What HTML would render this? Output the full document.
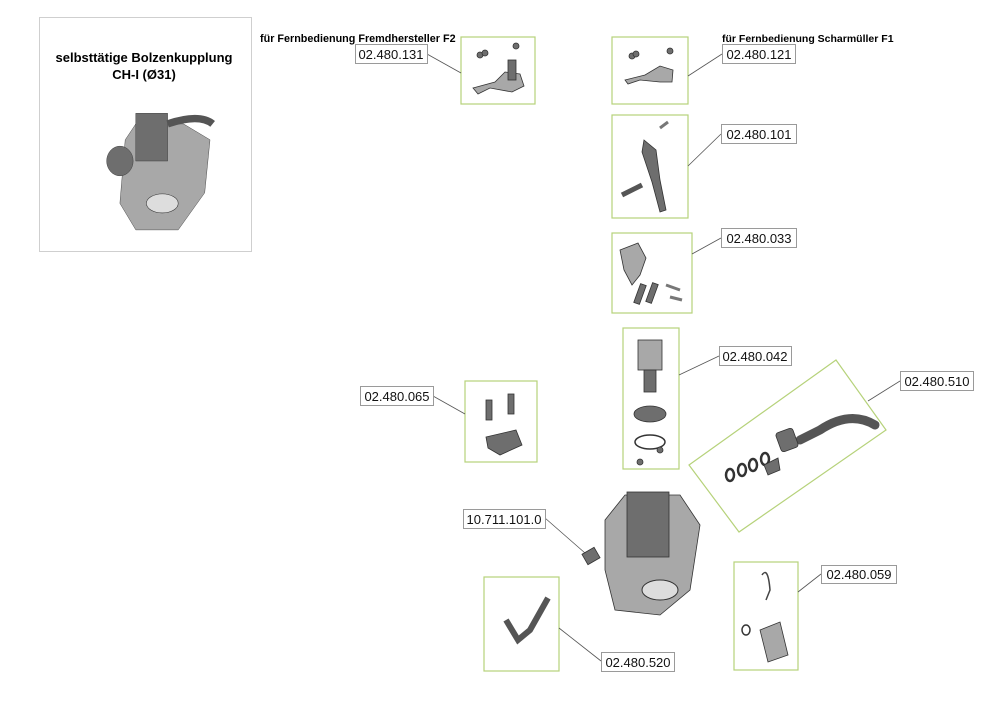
<!DOCTYPE html>
<html><head><meta charset="utf-8"><style>
html,body{margin:0;padding:0;background:#fff;}
svg{display:block;font-family:"Liberation Sans",sans-serif;}
.g{fill:none;stroke:#b6d27a;stroke-width:1.2}
.l{fill:#fff;stroke:#9a9a9a;stroke-width:1}
.t{font-size:13px;fill:#111}
.ln{stroke:#555;stroke-width:0.8}
.p{fill:#6e6e6e;stroke:#333;stroke-width:0.8}
.pl{fill:#a8a8a8;stroke:#333;stroke-width:0.8}
</style></head><body>
<svg width="1000" height="707" viewBox="0 0 1000 707">
<rect x="39.5" y="17.5" width="212" height="234" fill="#fff" stroke="#cfcfcf"/>
<text x="144" y="62" text-anchor="middle" font-size="13" font-weight="bold">selbsttätige Bolzenkupplung</text>
<text x="144" y="79" text-anchor="middle" font-size="13" font-weight="bold">CH-I (Ø31)</text>
<g transform="translate(104,108) scale(0.53)">
<path class="pl" d="M40 60 L60 30 L150 30 L200 60 L190 160 L140 230 L60 230 L30 180 Z"/>
<rect class="p" x="60" y="10" width="60" height="90"/>
<path d="M120 30 Q180 10 205 30" stroke="#555" stroke-width="14" fill="none"/>
<ellipse class="p" cx="30" cy="100" rx="25" ry="28"/>
<ellipse cx="110" cy="180" rx="30" ry="18" fill="#ddd" stroke="#333"/>
</g>
<text x="260" y="42" font-size="10.8" font-weight="bold">für Fernbedienung Fremdhersteller F2</text>
<text x="722" y="42" font-size="10.5" font-weight="bold">für Fernbedienung Scharmüller F1</text>
<rect class="g" x="461" y="37" width="74" height="67"/>
<rect class="g" x="612" y="37" width="76" height="67"/>
<rect class="g" x="612" y="115" width="76" height="103"/>
<rect class="g" x="612" y="233" width="80" height="80"/>
<rect class="g" x="623" y="328" width="56" height="141"/>
<rect class="g" x="465" y="381" width="72" height="81"/>
<rect class="g" x="484" y="577" width="75" height="94"/>
<rect class="g" x="734" y="562" width="64" height="108"/>
<polygon class="g" points="689,465 836,360 886,430 739,532"/>
<line class="ln" x1="427" y1="54" x2="461" y2="73"/>
<line class="ln" x1="722" y1="54" x2="688" y2="76"/>
<line class="ln" x1="721" y1="134" x2="688" y2="166"/>
<line class="ln" x1="721" y1="238" x2="692" y2="254"/>
<line class="ln" x1="719" y1="356" x2="679" y2="375"/>
<line class="ln" x1="900" y1="381" x2="868" y2="401"/>
<line class="ln" x1="433" y1="396" x2="465" y2="414"/>
<line class="ln" x1="545" y1="518" x2="585" y2="553"/>
<line class="ln" x1="821" y1="574" x2="798" y2="592"/>
<line class="ln" x1="601" y1="661" x2="559" y2="628"/>
<g class="t">
<rect class="l" x="355.5" y="44.5" width="72" height="19"/><text x="391" y="59" text-anchor="middle">02.480.131</text>
<rect class="l" x="722.5" y="44.5" width="73" height="19"/><text x="759" y="59" text-anchor="middle">02.480.121</text>
<rect class="l" x="721.5" y="124.5" width="75" height="19"/><text x="759" y="139" text-anchor="middle">02.480.101</text>
<rect class="l" x="721.5" y="228.5" width="75" height="19"/><text x="759" y="243" text-anchor="middle">02.480.033</text>
<rect class="l" x="719.5" y="346.5" width="72" height="19"/><text x="755" y="361" text-anchor="middle">02.480.042</text>
<rect class="l" x="900.5" y="371.5" width="73" height="19"/><text x="937" y="386" text-anchor="middle">02.480.510</text>
<rect class="l" x="360.5" y="386.5" width="73" height="19"/><text x="397" y="401" text-anchor="middle">02.480.065</text>
<rect class="l" x="463.5" y="509.5" width="82" height="19"/><text x="504" y="524" text-anchor="middle">10.711.101.0</text>
<rect class="l" x="821.5" y="565.5" width="75" height="18"/><text x="859" y="579" text-anchor="middle">02.480.059</text>
<rect class="l" x="601.5" y="652.5" width="73" height="19"/><text x="638" y="667" text-anchor="middle">02.480.520</text>
</g>
<path class="pl" d="M473 88 L495 82 L505 72 L520 74 L524 86 L512 92 L490 88 L478 94 Z"/><rect class="p" x="508" y="60" width="8" height="20"/>
<circle class="p" cx="480" cy="55" r="3"/><circle class="p" cx="485" cy="53" r="3"/><circle class="p" cx="516" cy="46" r="3"/>
<path class="pl" d="M625 80 L645 75 L660 66 L673 70 L672 82 L660 82 L640 80 L628 84 Z"/>
<circle class="p" cx="632" cy="56" r="3"/><circle class="p" cx="636" cy="54" r="3"/><circle class="p" cx="670" cy="51" r="3"/>
<path class="p" d="M644 140 L656 150 L660 180 L666 210 L660 212 L652 182 L642 152 Z"/>
<line x1="622" y1="195" x2="642" y2="185" stroke="#555" stroke-width="5"/>
<line x1="660" y1="128" x2="668" y2="122" stroke="#777" stroke-width="3"/>
<path class="pl" d="M620 250 L638 243 L646 258 L640 275 L632 285 L624 270 Z"/>
<rect class="p" x="637" y="284" width="6" height="20" transform="rotate(20 640 294)"/><rect class="p" x="649" y="283" width="6" height="20" transform="rotate(20 652 293)"/>
<line x1="666" y1="285" x2="680" y2="290" stroke="#777" stroke-width="3"/><line x1="670" y1="297" x2="682" y2="300" stroke="#777" stroke-width="3"/>
<rect class="pl" x="638" y="340" width="24" height="30"/><rect class="p" x="644" y="370" width="12" height="22"/>
<ellipse class="p" cx="650" cy="414" rx="16" ry="8"/><ellipse cx="650" cy="442" rx="15" ry="7" fill="none" stroke="#333" stroke-width="1.5"/>
<circle class="p" cx="640" cy="462" r="3"/><circle class="p" cx="660" cy="450" r="3"/>
<path class="p" d="M486 437 L516 430 L522 445 L500 455 L488 448 Z"/><rect class="p" x="486" y="400" width="6" height="20"/><rect class="p" x="508" y="394" width="6" height="20"/>
<path d="M800 440 L820 430 Q850 410 875 425" stroke="#555" stroke-width="9" fill="none" stroke-linecap="round"/>
<rect class="p" x="778" y="430" width="18" height="20" rx="3" transform="rotate(-20 787 440)"/>
<g fill="none" stroke="#333" stroke-width="2.5"><ellipse cx="730" cy="475" rx="4" ry="6"/><ellipse cx="742" cy="470" rx="4" ry="6"/><ellipse cx="753" cy="465" rx="4" ry="6"/><ellipse cx="765" cy="459" rx="4" ry="6"/></g>
<path class="p" d="M764 465 L778 458 L780 470 L768 475 Z"/>
<path class="pl" d="M605 520 L625 495 L680 495 L700 525 L690 590 L660 615 L615 610 L605 570 Z"/>
<rect class="p" x="627" y="492" width="42" height="65"/>
<ellipse cx="660" cy="590" rx="18" ry="10" fill="#ddd" stroke="#333"/>
<rect class="p" x="584" y="550" width="14" height="12" transform="rotate(-30 591 556)"/>
<path d="M506 620 L518 640 L530 630 L548 598" stroke="#555" stroke-width="6" fill="none"/>
<path class="pl" d="M760 630 L780 622 L788 655 L768 662 Z"/><ellipse cx="746" cy="630" rx="4" ry="5" fill="none" stroke="#333" stroke-width="1.5"/>
<path d="M762 575 Q768 566 770 590 L766 600" stroke="#444" stroke-width="1.5" fill="none"/>
</svg>
</body></html>
